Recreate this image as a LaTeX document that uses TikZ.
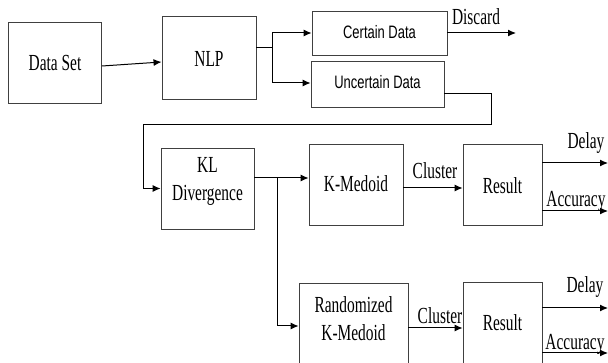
\documentclass[tikz,border=0pt]{standalone}
\usepackage{fontspec}
\newfontfamily\tnr[FakeStretch=0.67]{Liberation Serif}
\newfontfamily\nsans[FakeStretch=0.72]{Liberation Sans}
\usetikzlibrary{arrows.meta}
\begin{document}
\begin{tikzpicture}[x=1pt,y=-1pt,
  box/.style={draw=black!75, line width=0.9pt, inner sep=0pt},
  txt/.style={inner sep=0pt, font=\tnr\fontsize{23}{28}\selectfont, align=center},
  stxt/.style={inner sep=0pt, font=\nsans\fontsize{18}{22}\selectfont},
  lbl/.style={inner sep=0pt, font=\tnr\fontsize{23}{28}\selectfont},
  conn/.style={line width=1pt, black},
  arr/.style={conn, -{Latex[length=8pt,width=7pt]}}]
\useasboundingbox (0,0) rectangle (608,363);
\clip (0,0) rectangle (608,363);
% boxes
\node[box, minimum width=93pt, minimum height=81pt] (ds) at (55,63) {};
\node[txt] (dstext) at (55,63) {Data Set};
\node[box, minimum width=94pt, minimum height=83pt] (nlp) at (209,57.5) {};
\node[txt] (nlptext) at (209,59) {NLP};
\node[box, minimum width=135pt, minimum height=44pt] (cd) at (379.5,33) {};
\node[stxt] (cdtext) at (379.5,32) {Certain Data};
\node[box, minimum width=133pt, minimum height=46pt] (ud) at (377.5,84) {};
\node[stxt] (udtext) at (377.5,82) {Uncertain Data};
\node[box, minimum width=93pt, minimum height=81pt] (kl) at (207.5,188.5) {};
\node[txt] (kltext) at (207.5,181) {KL\\Divergence};
\node[box, minimum width=94pt, minimum height=81pt] (km) at (356,184.5) {};
\node[txt] (kmtext) at (356,184) {K-Medoid};
\node[box, minimum width=79pt, minimum height=81pt] (res) at (502.5,184.5) {};
\node[txt] (restext) at (502.5,186) {Result};
\node[box, minimum width=109pt, minimum height=100pt] (rkm) at (353.5,333) {};
\node[txt] (rkmtext) at (353.5,319) {Randomized\\K-Medoid};
\node[box, minimum width=79pt, minimum height=100pt] (res2) at (502.5,332) {};
\node[txt] (res2text) at (502.5,323) {Result};
% free ends
\coordinate (j1) at (272,48);
\coordinate (disc) at (516,33);
\coordinate (u1) at (491,94);
\coordinate (u2) at (491,125);
\coordinate (u3) at (143,125);
\coordinate (j2) at (277,178);
\coordinate (d1) at (608,163);
\coordinate (a1) at (608,211);
\coordinate (d2) at (608,308);
\coordinate (a2) at (608,353);
% connectors
\draw[arr] ([yshift=-3pt]ds.east) -- ([yshift=-4.5pt]nlp.west);
\draw[conn] ([yshift=9.5pt]nlp.east) -- (j1);
\draw[arr] (j1) |- (cd.west);
\draw[arr] (j1) |- ([yshift=1pt]ud.west);
\draw[arr] (cd.east) -- (disc);
\draw[arr] ([yshift=-10pt]ud.east) -- (u1) -- (u2) -- (u3) |- (kl.west);
\draw[arr] ([yshift=10.5pt]kl.east) -- (km.west |- j2);
\draw[arr] (j2) |- ([yshift=7pt]rkm.west);
\draw[arr] ([yshift=-3.5pt]km.east) -- ([yshift=-3.5pt]res.west);
\draw[arr] (res.east |- d1) -- (d1);
\draw[arr] (res.east |- a1) -- (a1);
\draw[arr] ([yshift=5pt]rkm.east) -- ([yshift=4pt]res2.west);
\draw[arr] (res2.east |- d2) -- (d2);
\draw[arr] (res2.east |- a2) -- (a2);
% labels
\node[lbl] (ldisc) at (476,17) {Discard};
\node[lbl] (lcl1) at (435,171) {Cluster};
\node[lbl] (ldel1) at (586,143) {Delay};
\node[lbl] (lacc1) at (576,201) {Accuracy};
\node[lbl] (lcl2) at (440,316) {Cluster};
\node[lbl] (ldel2) at (585,287) {Delay};
\node[lbl] (lacc2) at (575,344) {Accuracy};
\end{tikzpicture}
\end{document}
